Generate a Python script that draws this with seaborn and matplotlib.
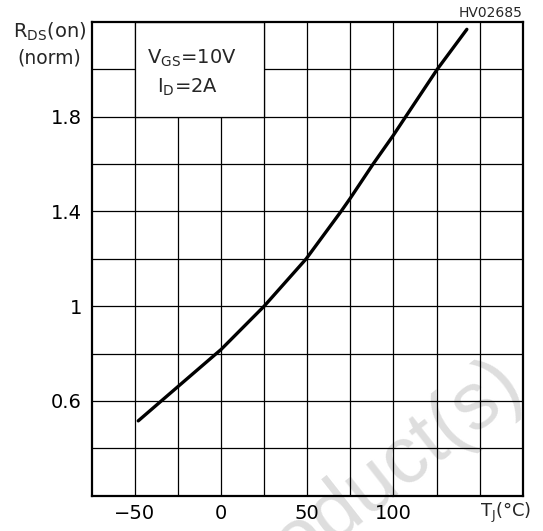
import numpy as np
import pandas as pd
import matplotlib
matplotlib.use("Agg")
import matplotlib.pyplot as plt
from matplotlib.patches import Rectangle
import seaborn as sns

# Normalized on-resistance vs junction temperature (VGS = 10 V, ID = 2 A)
temp_c = [-48.0, -35.6, -24.6, -2.9, 0.0, 25.0, 49.4, 69.6, 75.0, 88.2,
          100.0, 107.1, 125.4, 142.6]
rds_norm = [0.516, 0.594, 0.663, 0.799, 0.817, 1.000, 1.200, 1.400, 1.456,
            1.600, 1.722, 1.800, 2.000, 2.169]

x_tick_values = [-50, 0, 50, 100]
x_tick_labels = ["\u221250", "0", "50", "100"]
y_tick_values = [0.6, 1.0, 1.4, 1.8]
y_tick_labels = ["0.6", "1", "1.4", "1.8"]

df = pd.DataFrame({"temp": temp_c, "rds": rds_norm})

sns.set_theme(style="white")
plt.rcParams["font.family"] = ["DejaVu Sans"]
plt.rcParams["mathtext.fontset"] = "dejavusans"

W, H = 543, 531
fig = plt.figure(figsize=(W / 100, H / 100), dpi=100)


def fx(px):
    return px / W


def fy(py):
    return 1 - py / H


left, right, top, bottom = 91.7, 522.7, 22.0, 495.7
ax = fig.add_axes([fx(left), fy(bottom), (right - left) / W, (bottom - top) / H])
ax.set_facecolor("white")

ax.set_xlim(-75, 175)
ax.set_ylim(0.2, 2.2)

ax.set_xticks(x_tick_values, x_tick_labels)
ax.set_xticks(np.arange(-50, 151, 25), minor=True)
ax.set_yticks(y_tick_values, y_tick_labels)
ax.set_yticks(np.round(np.arange(0.4, 2.01, 0.2), 1), minor=True)

ax.set_axisbelow(True)
ax.grid(which="both", color="black", linewidth=0.9)
ax.tick_params(which="both", length=0, labelsize=14, colors="black")
ax.tick_params(axis="y", pad=7)
ax.tick_params(axis="x", pad=6)

for sp in ax.spines.values():
    sp.set_visible(True)
    sp.set_color("black")
    sp.set_linewidth(1.6)
    sp.set_zorder(5)

# Blank cell block that holds the test conditions
ax.add_patch(Rectangle((-50, 1.8), 75, 0.4, facecolor="white",
                       edgecolor="black", linewidth=0.9, zorder=1))

sns.lineplot(data=df, x="temp", y="rds", color="black", linewidth=2.4,
             ax=ax, zorder=3)
ax.set_xlabel("")
ax.set_ylabel("")

# Faint background stamp
ax.text(fx(527), fy(394), "Obsolete Product(s)", transform=fig.transFigure,
        ha="right", va="baseline", rotation=38, rotation_mode="anchor",
        fontsize=58, color="#dedede", family="Liberation Sans",
        zorder=0.2, clip_on=False)

fig.text(fx(50), fy(38), r"$\mathregular{R_{DS}}$(on)", ha="center",
         va="baseline", fontsize=14)
fig.text(fx(49), fy(63), "(norm)", ha="center", va="baseline", fontsize=13.5)
fig.text(fx(522.7), fy(17.3), "HV02685", ha="right", va="baseline",
         fontsize=10)
fig.text(fx(147), fy(63.3), r"$\mathregular{V_{GS}}$=10V", ha="left",
         va="baseline", fontsize=14)
fig.text(fx(157), fy(92.7), r"$\mathregular{I_{D}}$=2A", ha="left",
         va="baseline", fontsize=14)
fig.text(fx(506), fy(517), r"$\mathregular{T_{J}}$(°C)", ha="center",
         va="baseline", fontsize=13)

fig.savefig("out.png", dpi=100, facecolor="white")
